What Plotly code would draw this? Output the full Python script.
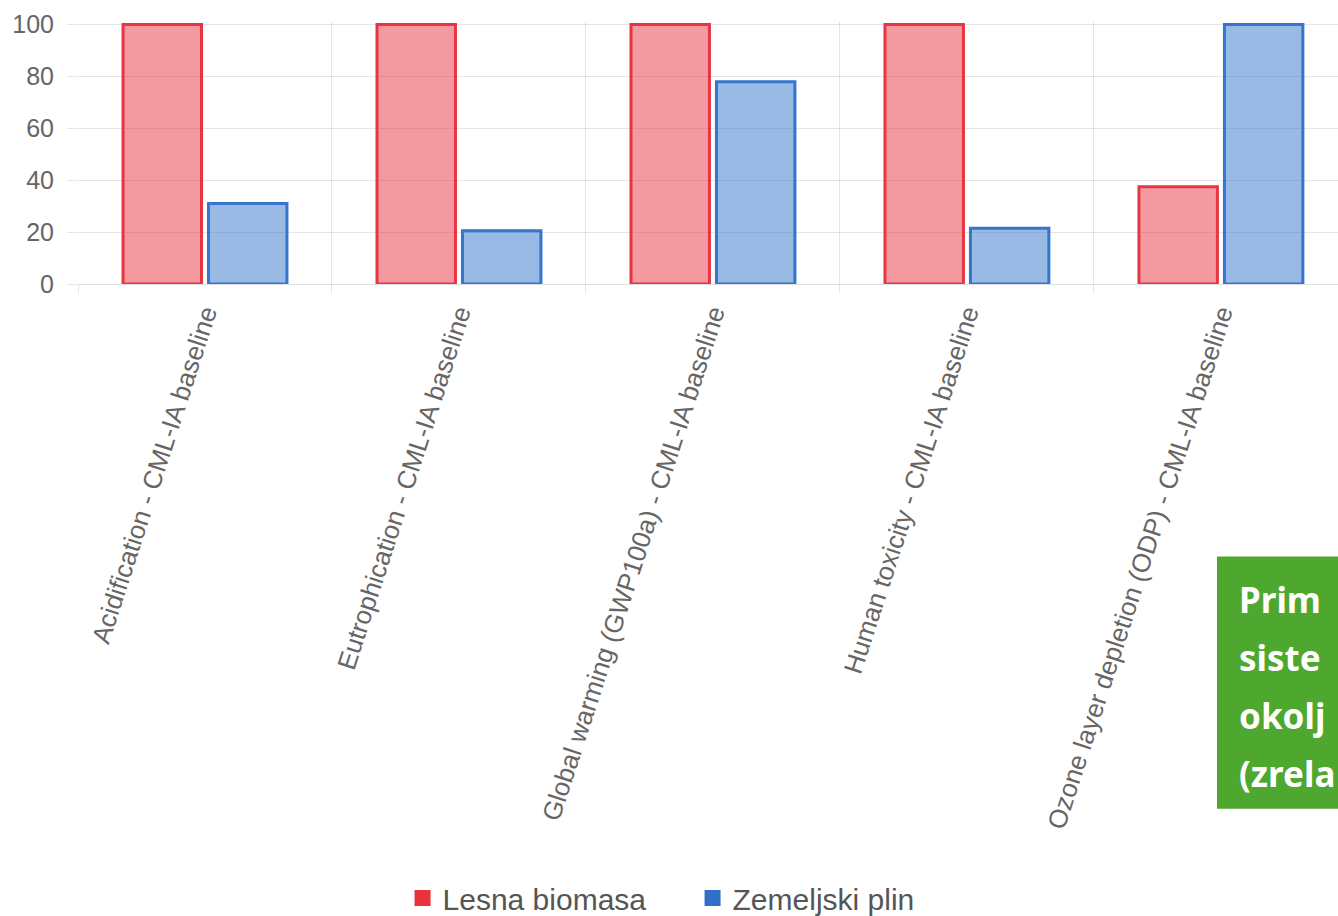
import plotly.graph_objects as go

# Impact categories (CML-IA baseline), normalised to 100 for the worst case
categories = [
    "Acidification - CML-IA baseline",
    "Eutrophication - CML-IA baseline",
    "Global warming (GWP100a) - CML-IA baseline",
    "Human toxicity - CML-IA baseline",
    "Ozone layer depletion (ODP) - CML-IA baseline",
]
lesna_biomasa = [100, 100, 100, 100, 37.5]
zemeljski_plin = [31, 20.5, 78, 21.5, 100]
y_ticks = [0, 20, 40, 60, 80, 100]

series = [
    ("Lesna biomasa", lesna_biomasa, "rgb(232,53,66)", "rgba(232,53,66,0.5)", "#E8323C"),
    ("Zemeljski plin", zemeljski_plin, "rgb(52,118,204)", "rgba(52,118,204,0.5)", "#2F6FC6"),
]

FONT = "Liberation Sans, Arial, sans-serif"
GRID = "rgba(0,0,0,0.1)"

fig = go.Figure()
for name, vals, line_c, fill_c, key_c in series:
    fig.add_trace(go.Bar(
        x=categories, y=vals, name=name, showlegend=False,
        marker=dict(color=fill_c, line=dict(color=line_c, width=3)),
    ))
# legend keys as solid squares
for name, vals, line_c, fill_c, key_c in series:
    fig.add_trace(go.Scatter(
        x=[None], y=[None], mode="markers", name=name,
        marker=dict(symbol="square", size=16, color=key_c, line=dict(width=0)),
    ))

fig.update_layout(
    width=1338, height=916,
    margin=dict(l=78, r=0, t=22.4, b=632, autoexpand=False),
    paper_bgcolor="white", plot_bgcolor="white",
    barmode="group", bargap=0.327, bargroupgap=0.082,
    font=dict(family=FONT, color="#666666"),
    legend=dict(
        orientation="h", xref="container", yref="container",
        x=0.5176, xanchor="center", y=0.0196, yanchor="middle",
        font=dict(size=30, color="#555555", family=FONT),
        entrywidth=245, itemsizing="trace",
    ),
    xaxis=dict(
        type="category", range=[-0.5, 4.461], tickson="boundaries",
        showgrid=True, gridcolor=GRID, gridwidth=1,
        ticks="outside", ticklen=8, tickcolor=GRID,
        tickangle=-72, tickfont=dict(size=26, color="#666666"),
        ticklabelstandoff=8,
        showline=False, zeroline=False, automargin=False,
    ),
    yaxis=dict(
        range=[0, 101], tickvals=y_ticks,
        showgrid=True, gridcolor=GRID, gridwidth=1,
        zeroline=True, zerolinecolor="rgba(0,0,0,0.13)", zerolinewidth=1,
        ticks="outside", ticklen=10, tickcolor=GRID,
        tickfont=dict(size=25, color="#666666"), ticklabelstandoff=8,
        showline=False, automargin=False,
    ),
)

# green caption panel, running off the right edge
fig.add_shape(type="rect", xref="paper", yref="paper",
              x0=(1217 - 78) / 1260, x1=1.2, y0=(284 - 808) / 261.6, y1=(284 - 556) / 261.6,
              fillcolor="#4EA72E", line=dict(width=0), layer="above")
caption = ["Prim", "siste", "okolj", "(zrela"]
for i, line in enumerate(caption):
    fig.add_annotation(
        text=line, xref="paper", yref="paper",
        x=(1237 - 78) / 1260, xanchor="left",
        y=(284 - (599 + 58 * i)) / 261.6, yanchor="middle",
        showarrow=False, align="left",
        font=dict(family="Noto Sans, sans-serif", size=35, color="white", weight=700),
    )

fig.write_html("out.html")
